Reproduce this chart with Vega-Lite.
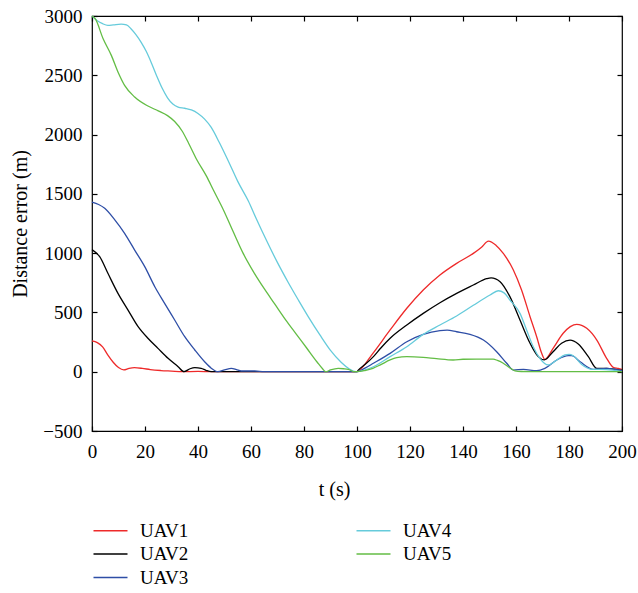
{
  "$schema": "https://vega.github.io/schema/vega-lite/v6.json",
  "width": 530,
  "height": 415,
  "autosize": {"type": "none"},
  "padding": {"left": 92, "top": 16, "right": 16, "bottom": 162},
  "background": "white",
  "config": {
    "view": {"stroke": "black", "strokeWidth": 1.2},
    "font": "Liberation Serif",
    "axis": {
      "labelFont": "Liberation Serif",
      "titleFont": "Liberation Serif",
      "labelFontSize": 19,
      "titleFontSize": 20,
      "titleFontWeight": "normal",
      "labelColor": "black",
      "titleColor": "black",
      "tickColor": "black",
      "tickSize": -5,
      "tickWidth": 1.2,
      "labelFlush": false,
      "domain": false,
      "grid": false
    },
    "legend": {
      "labelFont": "Liberation Serif",
      "labelFontSize": 19,
      "labelColor": "black"
    }
  },
  "data": {
    "values": [
      {"t": 0, "v": 260, "uav": "UAV1"}, {"t": 2, "v": 245, "uav": "UAV1"}, {"t": 4, "v": 210, "uav": "UAV1"}, {"t": 6, "v": 140, "uav": "UAV1"}, {"t": 8, "v": 80, "uav": "UAV1"}, {"t": 10, "v": 35, "uav": "UAV1"}, {"t": 12, "v": 15, "uav": "UAV1"}, {"t": 14, "v": 28, "uav": "UAV1"}, {"t": 16, "v": 34, "uav": "UAV1"}, {"t": 19, "v": 28, "uav": "UAV1"}, {"t": 22, "v": 18, "uav": "UAV1"}, {"t": 26, "v": 10, "uav": "UAV1"}, {"t": 30, "v": 5, "uav": "UAV1"}, {"t": 34, "v": 0, "uav": "UAV1"}, {"t": 40, "v": 3, "uav": "UAV1"}, {"t": 45, "v": 0, "uav": "UAV1"}, {"t": 60, "v": 0, "uav": "UAV1"}, {"t": 80, "v": 0, "uav": "UAV1"}, {"t": 100, "v": 0, "uav": "UAV1"}, {"t": 101, "v": 14, "uav": "UAV1"}, {"t": 106, "v": 155, "uav": "UAV1"}, {"t": 112.5, "v": 352, "uav": "UAV1"}, {"t": 118.8, "v": 535, "uav": "UAV1"}, {"t": 125, "v": 689, "uav": "UAV1"}, {"t": 131.3, "v": 816, "uav": "UAV1"}, {"t": 137.6, "v": 914, "uav": "UAV1"}, {"t": 143.9, "v": 998, "uav": "UAV1"}, {"t": 147, "v": 1050, "uav": "UAV1"}, {"t": 149.6, "v": 1102, "uav": "UAV1"}, {"t": 152.5, "v": 1065, "uav": "UAV1"}, {"t": 155.2, "v": 998, "uav": "UAV1"}, {"t": 159, "v": 858, "uav": "UAV1"}, {"t": 162.1, "v": 689, "uav": "UAV1"}, {"t": 165.3, "v": 464, "uav": "UAV1"}, {"t": 167.8, "v": 295, "uav": "UAV1"}, {"t": 169.7, "v": 155, "uav": "UAV1"}, {"t": 170.9, "v": 104, "uav": "UAV1"}, {"t": 174, "v": 197, "uav": "UAV1"}, {"t": 177.8, "v": 324, "uav": "UAV1"}, {"t": 180.5, "v": 380, "uav": "UAV1"}, {"t": 182.9, "v": 400, "uav": "UAV1"}, {"t": 186.7, "v": 366, "uav": "UAV1"}, {"t": 190.5, "v": 267, "uav": "UAV1"}, {"t": 194.2, "v": 113, "uav": "UAV1"}, {"t": 196.7, "v": 37, "uav": "UAV1"}, {"t": 198.6, "v": 28, "uav": "UAV1"}, {"t": 200, "v": 20, "uav": "UAV1"},

      {"t": 0, "v": 1030, "uav": "UAV2"}, {"t": 2.9, "v": 970, "uav": "UAV2"}, {"t": 6, "v": 830, "uav": "UAV2"}, {"t": 9.8, "v": 661, "uav": "UAV2"}, {"t": 13.6, "v": 520, "uav": "UAV2"}, {"t": 17.4, "v": 380, "uav": "UAV2"}, {"t": 21.1, "v": 282, "uav": "UAV2"}, {"t": 24.9, "v": 197, "uav": "UAV2"}, {"t": 28.7, "v": 113, "uav": "UAV2"}, {"t": 32.5, "v": 42, "uav": "UAV2"}, {"t": 34.7, "v": 0, "uav": "UAV2"}, {"t": 37, "v": 25, "uav": "UAV2"}, {"t": 38.8, "v": 34, "uav": "UAV2"}, {"t": 41.2, "v": 28, "uav": "UAV2"}, {"t": 43, "v": 12, "uav": "UAV2"}, {"t": 45, "v": 0, "uav": "UAV2"}, {"t": 60, "v": 0, "uav": "UAV2"}, {"t": 80, "v": 0, "uav": "UAV2"}, {"t": 100, "v": 0, "uav": "UAV2"}, {"t": 100.5, "v": 14, "uav": "UAV2"}, {"t": 103, "v": 60, "uav": "UAV2"}, {"t": 106.2, "v": 127, "uav": "UAV2"}, {"t": 109, "v": 200, "uav": "UAV2"}, {"t": 112.5, "v": 282, "uav": "UAV2"}, {"t": 118.8, "v": 394, "uav": "UAV2"}, {"t": 125, "v": 492, "uav": "UAV2"}, {"t": 131.3, "v": 582, "uav": "UAV2"}, {"t": 137.6, "v": 661, "uav": "UAV2"}, {"t": 143.9, "v": 731, "uav": "UAV2"}, {"t": 148.9, "v": 785, "uav": "UAV2"}, {"t": 150.6, "v": 792, "uav": "UAV2"}, {"t": 154, "v": 759, "uav": "UAV2"}, {"t": 157.7, "v": 633, "uav": "UAV2"}, {"t": 161.5, "v": 436, "uav": "UAV2"}, {"t": 165.3, "v": 240, "uav": "UAV2"}, {"t": 168.4, "v": 127, "uav": "UAV2"}, {"t": 170.7, "v": 100, "uav": "UAV2"}, {"t": 174, "v": 169, "uav": "UAV2"}, {"t": 177.2, "v": 240, "uav": "UAV2"}, {"t": 180.4, "v": 267, "uav": "UAV2"}, {"t": 183.5, "v": 234, "uav": "UAV2"}, {"t": 187.3, "v": 127, "uav": "UAV2"}, {"t": 190.5, "v": 28, "uav": "UAV2"}, {"t": 194.2, "v": 28, "uav": "UAV2"}, {"t": 199.2, "v": 14, "uav": "UAV2"}, {"t": 200, "v": 14, "uav": "UAV2"},

      {"t": 0, "v": 1430, "uav": "UAV3"}, {"t": 2.5, "v": 1410, "uav": "UAV3"}, {"t": 4.8, "v": 1378, "uav": "UAV3"}, {"t": 8.6, "v": 1280, "uav": "UAV3"}, {"t": 12.3, "v": 1167, "uav": "UAV3"}, {"t": 16.1, "v": 1026, "uav": "UAV3"}, {"t": 19.9, "v": 886, "uav": "UAV3"}, {"t": 23.7, "v": 717, "uav": "UAV3"}, {"t": 27.4, "v": 577, "uav": "UAV3"}, {"t": 31.2, "v": 436, "uav": "UAV3"}, {"t": 35, "v": 295, "uav": "UAV3"}, {"t": 38.8, "v": 183, "uav": "UAV3"}, {"t": 42.5, "v": 84, "uav": "UAV3"}, {"t": 45, "v": 30, "uav": "UAV3"}, {"t": 47.5, "v": 0, "uav": "UAV3"}, {"t": 50, "v": 15, "uav": "UAV3"}, {"t": 52.6, "v": 28, "uav": "UAV3"}, {"t": 54.5, "v": 18, "uav": "UAV3"}, {"t": 56.3, "v": 6, "uav": "UAV3"}, {"t": 61.4, "v": 6, "uav": "UAV3"}, {"t": 65, "v": 0, "uav": "UAV3"}, {"t": 80, "v": 0, "uav": "UAV3"}, {"t": 100, "v": 0, "uav": "UAV3"}, {"t": 103, "v": 30, "uav": "UAV3"}, {"t": 106.2, "v": 71, "uav": "UAV3"}, {"t": 112.5, "v": 155, "uav": "UAV3"}, {"t": 118.8, "v": 253, "uav": "UAV3"}, {"t": 125, "v": 315, "uav": "UAV3"}, {"t": 131.3, "v": 346, "uav": "UAV3"}, {"t": 134, "v": 350, "uav": "UAV3"}, {"t": 137.6, "v": 337, "uav": "UAV3"}, {"t": 142.6, "v": 315, "uav": "UAV3"}, {"t": 147.7, "v": 267, "uav": "UAV3"}, {"t": 152.7, "v": 169, "uav": "UAV3"}, {"t": 156.5, "v": 71, "uav": "UAV3"}, {"t": 159, "v": 14, "uav": "UAV3"}, {"t": 162.8, "v": 20, "uav": "UAV3"}, {"t": 167.8, "v": 8, "uav": "UAV3"}, {"t": 170.9, "v": 28, "uav": "UAV3"}, {"t": 175.4, "v": 99, "uav": "UAV3"}, {"t": 179.7, "v": 135, "uav": "UAV3"}, {"t": 181, "v": 135, "uav": "UAV3"}, {"t": 184.2, "v": 84, "uav": "UAV3"}, {"t": 189.2, "v": 20, "uav": "UAV3"}, {"t": 194.2, "v": 28, "uav": "UAV3"}, {"t": 199.2, "v": 14, "uav": "UAV3"}, {"t": 200, "v": 10, "uav": "UAV3"},

      {"t": 0, "v": 3000, "uav": "UAV4"}, {"t": 2, "v": 2960, "uav": "UAV4"}, {"t": 4, "v": 2935, "uav": "UAV4"}, {"t": 6, "v": 2921, "uav": "UAV4"}, {"t": 8, "v": 2925, "uav": "UAV4"}, {"t": 11, "v": 2932, "uav": "UAV4"}, {"t": 13, "v": 2925, "uav": "UAV4"}, {"t": 14.7, "v": 2893, "uav": "UAV4"}, {"t": 16.5, "v": 2845, "uav": "UAV4"}, {"t": 18.5, "v": 2780, "uav": "UAV4"}, {"t": 20.5, "v": 2700, "uav": "UAV4"}, {"t": 22.5, "v": 2600, "uav": "UAV4"}, {"t": 24.5, "v": 2490, "uav": "UAV4"}, {"t": 26.5, "v": 2390, "uav": "UAV4"}, {"t": 28.5, "v": 2310, "uav": "UAV4"}, {"t": 30.5, "v": 2258, "uav": "UAV4"}, {"t": 32.5, "v": 2232, "uav": "UAV4"}, {"t": 35, "v": 2222, "uav": "UAV4"}, {"t": 37.5, "v": 2208, "uav": "UAV4"}, {"t": 40, "v": 2178, "uav": "UAV4"}, {"t": 42.5, "v": 2130, "uav": "UAV4"}, {"t": 45, "v": 2060, "uav": "UAV4"}, {"t": 48, "v": 1935, "uav": "UAV4"}, {"t": 52, "v": 1750, "uav": "UAV4"}, {"t": 55, "v": 1605, "uav": "UAV4"}, {"t": 59, "v": 1440, "uav": "UAV4"}, {"t": 62, "v": 1290, "uav": "UAV4"}, {"t": 66, "v": 1100, "uav": "UAV4"}, {"t": 70, "v": 920, "uav": "UAV4"}, {"t": 74, "v": 755, "uav": "UAV4"}, {"t": 78, "v": 600, "uav": "UAV4"}, {"t": 82, "v": 450, "uav": "UAV4"}, {"t": 86, "v": 310, "uav": "UAV4"}, {"t": 90, "v": 180, "uav": "UAV4"}, {"t": 94, "v": 80, "uav": "UAV4"}, {"t": 97, "v": 25, "uav": "UAV4"}, {"t": 99.5, "v": 0, "uav": "UAV4"}, {"t": 100, "v": 0, "uav": "UAV4"}, {"t": 103, "v": 15, "uav": "UAV4"}, {"t": 106.2, "v": 42, "uav": "UAV4"}, {"t": 112.5, "v": 127, "uav": "UAV4"}, {"t": 118.8, "v": 211, "uav": "UAV4"}, {"t": 125, "v": 315, "uav": "UAV4"}, {"t": 131.3, "v": 394, "uav": "UAV4"}, {"t": 137.6, "v": 470, "uav": "UAV4"}, {"t": 143.9, "v": 560, "uav": "UAV4"}, {"t": 150.2, "v": 647, "uav": "UAV4"}, {"t": 153.3, "v": 683, "uav": "UAV4"}, {"t": 155.5, "v": 665, "uav": "UAV4"}, {"t": 157.7, "v": 605, "uav": "UAV4"}, {"t": 161.5, "v": 492, "uav": "UAV4"}, {"t": 164, "v": 352, "uav": "UAV4"}, {"t": 166.5, "v": 211, "uav": "UAV4"}, {"t": 169, "v": 113, "uav": "UAV4"}, {"t": 172.2, "v": 57, "uav": "UAV4"}, {"t": 175.4, "v": 99, "uav": "UAV4"}, {"t": 178.5, "v": 141, "uav": "UAV4"}, {"t": 180, "v": 146, "uav": "UAV4"}, {"t": 181.6, "v": 135, "uav": "UAV4"}, {"t": 184.8, "v": 60, "uav": "UAV4"}, {"t": 188.6, "v": 20, "uav": "UAV4"}, {"t": 194, "v": 18, "uav": "UAV4"}, {"t": 199, "v": 5, "uav": "UAV4"}, {"t": 200, "v": 0, "uav": "UAV4"},

      {"t": 0, "v": 3000, "uav": "UAV5"}, {"t": 1.2, "v": 2977, "uav": "UAV5"}, {"t": 4.2, "v": 2808, "uav": "UAV5"}, {"t": 7.3, "v": 2668, "uav": "UAV5"}, {"t": 9.8, "v": 2528, "uav": "UAV5"}, {"t": 12.3, "v": 2415, "uav": "UAV5"}, {"t": 16.1, "v": 2317, "uav": "UAV5"}, {"t": 21.1, "v": 2241, "uav": "UAV5"}, {"t": 25, "v": 2200, "uav": "UAV5"}, {"t": 28.5, "v": 2160, "uav": "UAV5"}, {"t": 31.2, "v": 2110, "uav": "UAV5"}, {"t": 34, "v": 2030, "uav": "UAV5"}, {"t": 36.5, "v": 1925, "uav": "UAV5"}, {"t": 39.5, "v": 1790, "uav": "UAV5"}, {"t": 43.3, "v": 1645, "uav": "UAV5"}, {"t": 45.8, "v": 1532, "uav": "UAV5"}, {"t": 49.6, "v": 1364, "uav": "UAV5"}, {"t": 53.3, "v": 1180, "uav": "UAV5"}, {"t": 57, "v": 1000, "uav": "UAV5"}, {"t": 61, "v": 840, "uav": "UAV5"}, {"t": 65, "v": 700, "uav": "UAV5"}, {"t": 69, "v": 570, "uav": "UAV5"}, {"t": 73, "v": 440, "uav": "UAV5"}, {"t": 77, "v": 320, "uav": "UAV5"}, {"t": 81, "v": 200, "uav": "UAV5"}, {"t": 85, "v": 80, "uav": "UAV5"}, {"t": 87, "v": 25, "uav": "UAV5"}, {"t": 88.2, "v": 0, "uav": "UAV5"}, {"t": 90, "v": 15, "uav": "UAV5"}, {"t": 92.9, "v": 28, "uav": "UAV5"}, {"t": 95, "v": 25, "uav": "UAV5"}, {"t": 96.7, "v": 20, "uav": "UAV5"}, {"t": 99, "v": 0, "uav": "UAV5"}, {"t": 100, "v": 0, "uav": "UAV5"}, {"t": 103, "v": 10, "uav": "UAV5"}, {"t": 106, "v": 28, "uav": "UAV5"}, {"t": 109, "v": 60, "uav": "UAV5"}, {"t": 112.5, "v": 99, "uav": "UAV5"}, {"t": 115, "v": 118, "uav": "UAV5"}, {"t": 118.8, "v": 127, "uav": "UAV5"}, {"t": 125, "v": 121, "uav": "UAV5"}, {"t": 130, "v": 110, "uav": "UAV5"}, {"t": 136.3, "v": 99, "uav": "UAV5"}, {"t": 140, "v": 105, "uav": "UAV5"}, {"t": 145, "v": 107, "uav": "UAV5"}, {"t": 151.4, "v": 107, "uav": "UAV5"}, {"t": 153, "v": 95, "uav": "UAV5"}, {"t": 155.2, "v": 71, "uav": "UAV5"}, {"t": 157.5, "v": 35, "uav": "UAV5"}, {"t": 159.6, "v": 8, "uav": "UAV5"}, {"t": 162, "v": 2, "uav": "UAV5"}, {"t": 169, "v": 0, "uav": "UAV5"}, {"t": 200, "v": 0, "uav": "UAV5"}
    ]
  },
  "layer": [
    {
      "mark": {"type": "line", "strokeWidth": 1.3, "interpolate": "monotone"},
      "encoding": {
        "x": {
          "field": "t", "type": "quantitative",
          "scale": {"domain": [0, 200], "nice": false},
          "axis": {
            "orient": "bottom",
            "values": [0, 20, 40, 60, 80, 100, 120, 140, 160, 180, 200],
            "format": "d",
            "labelPadding": 16,
            "title": "t (s)",
            "titleX": 242,
            "titlePadding": 18
          }
        },
        "y": {
          "field": "v", "type": "quantitative",
          "scale": {"domain": [-500, 3000], "nice": false},
          "axis": {
            "orient": "left",
            "values": [-500, 0, 500, 1000, 1500, 2000, 2500, 3000],
            "format": "d",
            "labelPadding": 15,
            "title": "Distance error (m)",
            "titlePadding": 12
          }
        },
        "color": {
          "field": "uav", "type": "nominal",
          "scale": {
            "domain": ["UAV1", "UAV2", "UAV3", "UAV4", "UAV5"],
            "range": ["#ee2a2a", "#000000", "#2e4ea6", "#66cbdb", "#63bd45"]
          },
          "legend": {
            "orient": "none",
            "legendX": 9,
            "legendY": 505,
            "columns": 2,
            "title": null,
            "padding": 0,
            "symbolType": "M-2,0H2",
            "symbolSize": 289,
            "symbolStrokeWidth": 1.5,
            "labelOffset": 20,
            "columnPadding": 164,
            "rowPadding": 3.5
          }
        }
      }
    },
    {
      "mark": {"type": "line", "opacity": 0},
      "encoding": {
        "x": {
          "field": "t", "type": "quantitative",
          "axis": {
            "orient": "top",
            "values": [0, 20, 40, 60, 80, 100, 120, 140, 160, 180, 200],
            "labels": false,
            "title": null
          }
        },
        "y": {
          "field": "v", "type": "quantitative",
          "axis": {
            "orient": "right",
            "values": [-500, 0, 500, 1000, 1500, 2000, 2500, 3000],
            "labels": false,
            "title": null
          }
        },
        "detail": {"field": "uav"}
      }
    }
  ],
  "resolve": {"axis": {"x": "independent", "y": "independent"}}
}
